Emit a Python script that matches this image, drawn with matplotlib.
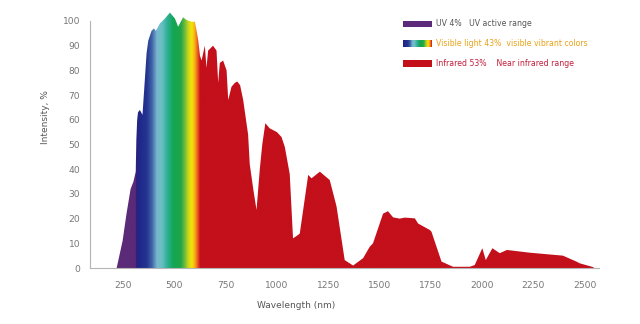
import numpy as np
import matplotlib
matplotlib.use("Agg")
import matplotlib.pyplot as plt
from matplotlib.colors import LinearSegmentedColormap, to_rgb
from matplotlib.patches import Polygon, Rectangle

# Solar spectrum outline: wavelength (nm) and relative intensity (%)
wavelength = [218, 247, 266, 286, 300, 311, 314, 318, 322, 331, 344, 364, 372,
              388, 400, 409, 429, 453, 478, 502, 518, 542, 559, 583, 599, 608,
              616, 624, 632, 648, 656, 664, 688, 705, 713, 721, 737, 754, 762,
              778, 795, 806, 820, 835, 859, 867, 884, 900, 916, 928, 943, 965,
              1000, 1022, 1038, 1062, 1078, 1103, 1111, 1152, 1168, 1209, 1257,
              1290, 1330, 1371, 1420, 1452, 1468, 1517, 1541, 1566, 1598, 1623,
              1672, 1688, 1745, 1753, 1802, 1858, 1940, 1964, 2001, 2018, 2050,
              2086, 2121, 2232, 2394, 2460, 2476, 2544]
intensity = [0, 11, 22, 32, 35, 39, 52, 60, 63, 64, 62, 87, 92,
             96, 97, 96, 99, 101, 103.4, 101, 97.7, 101.5, 100.4, 99.7, 99.7, 96,
             92, 86, 84, 90, 81, 88, 90, 88, 75, 83, 84, 80, 68,
             73.4, 75, 75.5, 74, 68, 54, 42, 32, 23.5, 40, 50, 58.6, 56.5,
             55, 53, 49, 38, 12, 13.4, 14, 37.7, 36.3, 39, 35.6,
             25, 3.2, 1, 4, 8.6, 10, 22, 23, 20.5, 20, 20.4,
             20.1, 18, 15.4, 14.7, 2.6, 0.5, 0.5, 1.2, 8, 3.2, 8,
             6, 7.3, 6.2, 5, 2.6, 1.9, 0.3]

# Spectral bands
uv_end = 312
visible_end = 625
uv_color = "#5b2a78"
ir_color = "#c3101b"
visible_stops = [312, 335, 365, 390, 415, 440, 465, 495, 530, 550, 570, 585, 600, 615, 625]
visible_colors = ["#2a1f7c", "#1f2a8c", "#24358f", "#3f63a8", "#7ab8cf", "#66c0c0",
                  "#2fae96", "#12a653", "#1fa548", "#6dbb3c", "#d6d81c", "#f3e500",
                  "#f6a81c", "#e84b1c", "#c3101b"]

legend_labels = ["UV 4%   UV active range",
                 "Visible light 43%  visible vibrant colors",
                 "Infrared 53%    Near infrared range"]
legend_text_colors = ["#555555", "#e8a317", "#c41e3a"]

x_ticks = [250, 500, 750, 1000, 1250, 1500, 1750, 2000, 2250, 2500]
y_ticks = list(range(0, 101, 10))

W, H = 640, 324
fig = plt.figure(figsize=(W / 100, H / 100), dpi=100)
fig.patch.set_facecolor("white")

x_min, x_max = 88, 2570
y_min, y_max = 0, 106
ax_left, ax_right, ax_bottom = 90, 599, 268
px_per_unit = 2.47
ax_top = ax_bottom - px_per_unit * y_max
ax = fig.add_axes([ax_left / W, (H - ax_bottom) / H,
                   (ax_right - ax_left) / W, (ax_bottom - ax_top) / H])
ax.set_xlim(x_min, x_max)
ax.set_ylim(y_min, y_max)
ax.set_facecolor("none")


def spectrum_rgb(nm):
    nm = np.asarray(nm, dtype=float)
    stops = np.array([to_rgb(c) for c in visible_colors])
    rgb = np.empty(nm.shape + (3,))
    for k in range(3):
        rgb[..., k] = np.interp(nm, visible_stops, stops[:, k])
    rgb[nm < uv_end] = to_rgb(uv_color)
    rgb[nm >= visible_end] = to_rgb(ir_color)
    return rgb


# Gradient image clipped to the area under the curve
grid = np.linspace(x_min, x_max, 3000)
img = spectrum_rgb(grid)[np.newaxis, :, :]
poly_pts = [(wavelength[0], 0)] + list(zip(wavelength, intensity)) + [(wavelength[-1], 0)]
area = Polygon(poly_pts, closed=True, facecolor="none", edgecolor="none")
ax.add_patch(area)
im = ax.imshow(img, extent=[x_min, x_max, 0, y_max], aspect="auto",
               origin="lower", interpolation="bilinear", zorder=1)
im.set_clip_path(area)

# Axes styling
for side in ["top", "right"]:
    ax.spines[side].set_visible(False)
for side in ["left", "bottom"]:
    ax.spines[side].set_color("#b5b5b5")
    ax.spines[side].set_linewidth(0.8)
    ax.spines[side].set_zorder(3)
ax.spines["left"].set_bounds(0, 100)
ax.set_xticks(x_ticks)
ax.set_yticks(y_ticks)
ax.tick_params(axis="both", length=0, labelsize=6.6, labelcolor="#777777")
ax.tick_params(axis="x", pad=9)
ax.tick_params(axis="y", pad=7)

fig.text(296 / W, 1 - 305 / H, "Wavelength (nm)", ha="center", va="center",
         fontsize=6.5, color="#555555")
fig.text(45 / W, 1 - 117 / H, "Intensity, %", ha="center", va="center",
         rotation=90, fontsize=6.5, color="#555555")

# Legend
sw_x, sw_w, sw_h = 403, 29, 6.5
sw_centers = [24, 43.7, 63.3]
fig.patches.append(Rectangle((sw_x / W, 1 - (sw_centers[0] + sw_h / 2) / H), sw_w / W, sw_h / H,
                             transform=fig.transFigure, facecolor=uv_color, edgecolor="none"))
fig.patches.append(Rectangle((sw_x / W, 1 - (sw_centers[2] + sw_h / 2) / H), sw_w / W, sw_h / H,
                             transform=fig.transFigure, facecolor=ir_color, edgecolor="none"))
sw_ax = fig.add_axes([sw_x / W, 1 - (sw_centers[1] + sw_h / 2) / H, sw_w / W, sw_h / H])
sw_grid = np.linspace(uv_end, visible_end, 200)
sw_ax.imshow(spectrum_rgb(sw_grid)[np.newaxis, :, :], aspect="auto", interpolation="bilinear")
sw_ax.axis("off")

for label, color, cy in zip(legend_labels, legend_text_colors, sw_centers):
    fig.text(436 / W, 1 - cy / H, label, ha="left", va="center", fontsize=5.6, color=color)

fig.savefig("out.png", dpi=100, facecolor="white")
